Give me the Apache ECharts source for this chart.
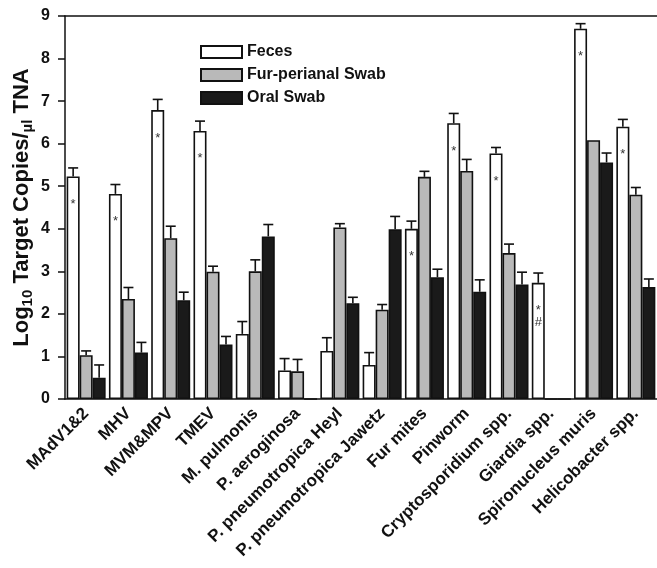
<!DOCTYPE html>
<html lang="en">
<head>
    <meta charset="UTF-8" />
    <title>Target copies by sample type</title>
    <script src="https://cdn.jsdelivr.net/npm/echarts@6/dist/echarts.min.js"></script>
</head>
<body style="margin: 0">
    <div id="main" style="width: 657px; height: 568px"></div>

    <script>
        var categories = ["MAdV1&2", "MHV", "MVM&MPV", "TMEV", "M. pulmonis", "P. aeroginosa",
            "P. pneumotropica Heyl", "P. pneumotropica Jawetz", "Fur mites", "Pinworm",
            "Cryptosporidium spp.", "Giardia spp.", "Spironucleus muris", "Helicobacter spp."];

        // 均值 + 误差 (只画上半)
        var feces = [5.23, 4.82, 6.79, 6.30, 1.53, 0.67, 1.13, 0.80, 4.00, 6.48, 5.77, 2.73, 8.70, 6.40];
        var fecesErr = [0.20, 0.22, 0.25, 0.23, 0.29, 0.28, 0.31, 0.29, 0.18, 0.23, 0.14, 0.23, 0.12, 0.17];
        var fur = [1.03, 2.35, 3.78, 2.99, 3.00, 0.65, 4.03, 2.10, 5.22, 5.36, 3.43, 0, 6.08, 4.80];
        var furErr = [0.10, 0.27, 0.28, 0.13, 0.27, 0.28, 0.09, 0.12, 0.13, 0.27, 0.21, 0, 0, 0.17];
        var oral = [0.50, 1.09, 2.32, 1.28, 3.82, 0, 2.25, 3.99, 2.86, 2.52, 2.69, 0, 5.56, 2.63];
        var oralErr = [0.30, 0.24, 0.19, 0.19, 0.28, 0, 0.14, 0.30, 0.19, 0.28, 0.29, 0, 0.22, 0.19];

        // 粪便柱上的显著性标记
        var fecesMarks = ["*", "*", "*", "*", "", "", "", "", "*", "*", "*", "*\n#", "*", "*"];

        var yTicks = [0, 1, 2, 3, 4, 5, 6, 7, 8, 9];

        var barW = 13;
        var font = "Liberation Sans, Arial, sans-serif";

        function errSeries(vals, errs, offset) {
            return {
                type: "custom",
                z: 1,
                silent: true,
                data: vals.map(function (v, i) { return [i, v, v + errs[i]]; }),
                renderItem: function (params, api) {
                    var i = api.value(0);
                    var lo = api.coord([i, api.value(1)]);
                    var hi = api.coord([i, api.value(2)]);
                    var x = lo[0] + offset;
                    if (api.value(2) <= api.value(1)) return;
                    var st = { stroke: "#111", lineWidth: 1.6 };
                    return {
                        type: "group",
                        children: [
                            { type: "line", shape: { x1: x, y1: lo[1], x2: x, y2: hi[1] }, style: st },
                            { type: "line", shape: { x1: x - 5, y1: hi[1], x2: x + 5, y2: hi[1] }, style: st }
                        ]
                    };
                }
            };
        }

        var chart = echarts.init(document.getElementById("main"));

        var option = {
            animation: false,
            textStyle: { fontFamily: font },
            legend: {
                orient: "vertical",
                left: 195,
                top: 39,
                icon: "rect",
                itemWidth: 41,
                itemHeight: 12,
                itemGap: 7,
                data: ["Feces", "Fur-perianal Swab", "Oral Swab"],
                textStyle: { fontSize: 16, lineHeight: 16, fontWeight: "bold", color: "#111", fontFamily: font }
            },
            grid: { left: 65, right: 0, top: 16, bottom: 169, containLabel: false, outerBoundsMode: "none" },
            xAxis: [
                {
                    type: "category",
                    data: categories,
                    axisTick: { show: false },
                    axisLine: { lineStyle: { color: "#111", width: 1.5 } },
                    axisLabel: {
                        rotate: 45,
                        interval: 0,
                        margin: 12,
                        fontSize: 17,
                        fontWeight: "bold",
                        color: "#111",
                        fontFamily: font
                    }
                },
                {
                    type: "category",
                    position: "top",
                    data: categories,
                    axisTick: { show: false },
                    axisLabel: { show: false },
                    axisLine: { lineStyle: { color: "#111", width: 1.5 } }
                }
            ],
            yAxis: {
                type: "value",
                min: yTicks[0],
                max: yTicks[yTicks.length - 1],
                interval: 1,
                splitLine: { show: false },
                axisLine: { show: true, lineStyle: { color: "#111", width: 1.5 } },
                axisTick: { show: true, length: 7, lineStyle: { color: "#111", width: 1.5 } },
                axisLabel: { fontSize: 16, fontWeight: "bold", color: "#111", margin: 15, fontFamily: font },
                name: "{a|Log}{s|10}{a| Target Copies/}{s|µl}{a| TNA}",
                nameLocation: "middle",
                nameRotate: 90,
                nameGap: 30,
                nameMoveOverlap: false,
                nameTextStyle: {
                    rich: {
                        a: { fontSize: 22, fontWeight: "bold", color: "#111", fontFamily: font, lineHeight: 26 },
                        s: { fontSize: 15, fontWeight: "bold", color: "#111", fontFamily: font, lineHeight: 26, verticalAlign: "bottom", padding: [9, 0, 0, 0] }
                    }
                }
            },
            series: [
                {
                    name: "Feces",
                    type: "bar",
                    barWidth: barW,
                    barGap: 0,
                    data: feces,
                    itemStyle: { color: "#ffffff", borderColor: "#111", borderWidth: 1.6 },
                    label: {
                        show: true,
                        position: "insideTop",
                        distance: 22,
                        fontSize: 13,
                        lineHeight: 12,
                        color: "#333",
                        formatter: function (p) { return fecesMarks[p.dataIndex]; }
                    }
                },
                {
                    name: "Fur-perianal Swab",
                    type: "bar",
                    barWidth: barW,
                    barGap: 0,
                    data: fur,
                    itemStyle: { color: "#b9b9b9", borderColor: "#111", borderWidth: 1.6 }
                },
                {
                    name: "Oral Swab",
                    type: "bar",
                    barWidth: barW,
                    barGap: 0,
                    data: oral,
                    itemStyle: { color: "#1a1a1a", borderColor: "#111", borderWidth: 1.6 }
                },
                errSeries(feces, fecesErr, -barW),
                errSeries(fur, furErr, 0),
                errSeries(oral, oralErr, barW)
            ]
        };
        chart.setOption(option);
    </script>
</body>
</html>
